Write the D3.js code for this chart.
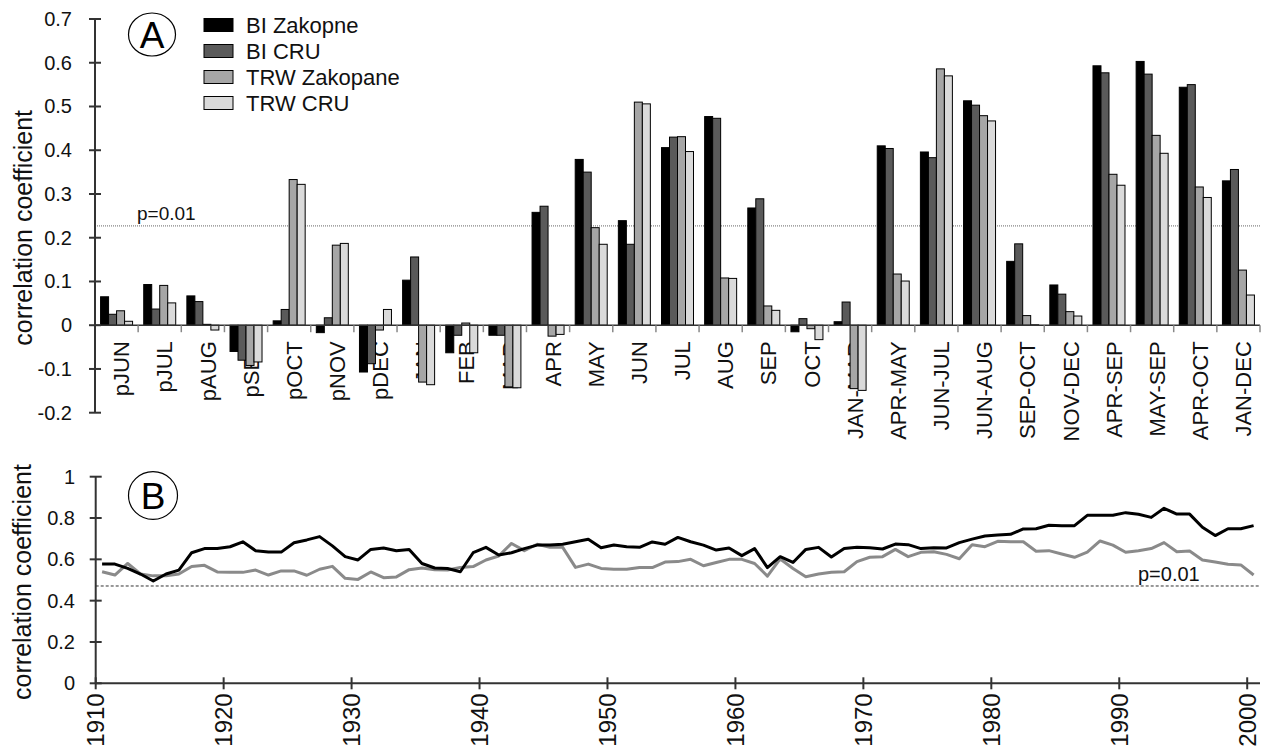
<!DOCTYPE html>
<html>
<head>
<meta charset="utf-8">
<script src="https://cdnjs.cloudflare.com/ajax/libs/d3/7.8.5/d3.min.js"></script>
<style>
  html, body { margin: 0; padding: 0; background: #fff; }
  svg { display: block; font-family: "Liberation Sans", Arial, sans-serif; }
</style>
</head>
<body>
<svg id="chart" width="1262" height="749"></svg>
<script>
// ---------- Panel A data ----------
const categories = ["pJUN","pJUL","pAUG","pSEP","pOCT","pNOV","pDEC","JAN","FEB","MAR","APR","MAY","JUN","JUL","AUG","SEP","OCT",
  "JAN-MAR","APR-MAY","JUN-JUL","JUN-AUG","SEP-OCT","NOV-DEC","APR-SEP","MAY-SEP","APR-OCT","JAN-DEC"];
const seriesNames = ["BI Zakopne","BI CRU","TRW Zakopane","TRW CRU"];
const biZakopane  = [0.065,0.093,0.067,-0.060,0.010,-0.017,-0.107,0.103,-0.063,-0.023,0.258,0.379,0.239,0.406,0.477,0.268,-0.015,
  0.008,0.410,0.396,0.513,0.146,0.092,0.593,0.603,0.544,0.330];
const biCRU       = [0.025,0.037,0.054,-0.080,0.036,0.017,-0.088,0.156,-0.023,-0.023,0.272,0.350,0.185,0.430,0.473,0.289,0.015,
  0.053,0.404,0.383,0.503,0.186,0.071,0.577,0.574,0.550,0.356];
const trwZakopane = [0.033,0.091,0.002,-0.092,0.333,0.183,-0.011,-0.130,0.005,-0.141,-0.025,0.223,0.510,0.431,0.108,0.044,-0.008,
  -0.145,0.117,0.586,0.479,0.022,0.031,0.345,0.434,0.316,0.126];
const trwCRU      = [0.009,0.051,-0.011,-0.084,0.322,0.187,0.036,-0.136,-0.063,-0.143,-0.021,0.185,0.506,0.397,0.107,0.034,-0.033,
  -0.149,0.101,0.570,0.467,0.001,0.021,0.320,0.393,0.292,0.069];
const yTicksA = [-0.2,-0.1,0,0.1,0.2,0.3,0.4,0.5,0.6,0.7];
const yTickLabelsA = ["-0.2","-0.1","0","0.1","0.2","0.3","0.4","0.5","0.6","0.7"];
const pLevelA = 0.227;

// ---------- Panel B data ----------
const years = d3.range(1910, 2001);
const biLine = [0.577,0.577,0.556,0.529,0.495,0.529,0.548,0.632,0.652,0.652,
  0.661,0.685,0.642,0.635,0.635,0.680,0.694,0.710,0.665,0.613,
  0.597,0.648,0.655,0.642,0.648,0.580,0.558,0.556,0.540,0.632,
  0.658,0.621,0.632,0.652,0.669,0.669,0.673,0.685,0.697,0.656,
  0.669,0.661,0.658,0.684,0.673,0.706,0.685,0.669,0.645,0.655,
  0.618,0.652,0.560,0.613,0.585,0.648,0.658,0.611,0.652,0.658,
  0.656,0.650,0.674,0.671,0.652,0.656,0.655,0.681,0.698,0.713,
  0.718,0.721,0.747,0.748,0.765,0.763,0.763,0.813,0.813,0.813,
  0.826,0.818,0.803,0.847,0.819,0.819,0.755,0.715,0.748,0.748,0.763];
const trwLine = [0.540,0.524,0.580,0.529,0.520,0.520,0.529,0.565,0.571,0.539,
  0.537,0.537,0.548,0.524,0.544,0.544,0.523,0.552,0.566,0.508,
  0.503,0.539,0.511,0.515,0.550,0.558,0.550,0.548,0.561,0.565,
  0.597,0.616,0.677,0.642,0.673,0.658,0.658,0.561,0.577,0.556,
  0.552,0.552,0.561,0.560,0.587,0.589,0.600,0.569,0.585,0.600,
  0.600,0.580,0.519,0.602,0.556,0.516,0.529,0.537,0.540,0.589,
  0.610,0.613,0.648,0.613,0.634,0.637,0.624,0.603,0.671,0.661,
  0.687,0.685,0.685,0.639,0.642,0.626,0.610,0.635,0.689,0.669,
  0.634,0.642,0.652,0.681,0.637,0.640,0.597,0.587,0.576,0.573,0.524];
const yTicksB = [0,0.2,0.4,0.6,0.8,1];
const yTickLabelsB = ["0","0.2","0.4","0.6","0.8","1"];
const xTicksB = [1910,1920,1930,1940,1950,1960,1970,1980,1990,2000];
const pLevelB = 0.471;

// ---------- drawing ----------
const svg = d3.select("#chart");
const fills = ["#000000","#5a5a5a","#a6a6a6","#dadada"];
const axisColor = "#333";

// vertical text reading bottom-to-top, its top end placed at (cx, topY)
function verticalLabel(sel, cx, topY, size) {
  sel.attr("font-size", size).attr("fill", "#111")
    .attr("text-anchor", "start").attr("dy", "0.35em");
  sel.each(function(d) {
    const t = d3.select(this);
    const len = this.getComputedTextLength();
    const x = cx(d), y = topY + len;
    t.attr("x", 0).attr("y", 0)
     .attr("transform", "translate(" + x + "," + y + ") rotate(-90)");
  });
}

// ===== Panel A =====
const xA = d3.scaleBand().domain(categories).range([95, 1260]).paddingInner(0).paddingOuter(0);
const yA = d3.scaleLinear().domain([-0.2, 0.7]).range([412.7, 19]);
const groupW = 32;
const xSub = d3.scaleBand().domain(seriesNames).range([0, groupW]).padding(0);
const seriesVals = [biZakopane, biCRU, trwZakopane, trwCRU];

const gA = svg.append("g");

// significance line A
gA.append("line")
  .attr("x1", xA.range()[0]).attr("x2", xA.range()[1])
  .attr("y1", yA(pLevelA)).attr("y2", yA(pLevelA))
  .attr("stroke", "#666").attr("stroke-width", 1).attr("stroke-dasharray", "1,1");
gA.append("text").attr("x", 137).attr("y", yA(pLevelA) - 6)
  .attr("font-size", 19).attr("fill", "#111").text("p=0.01");

// category labels (drawn under bars)
const catText = gA.selectAll("text.cat").data(categories).enter().append("text")
  .attr("class", "cat").text(d => d);
verticalLabel(catText, d => xA(d) + xA.bandwidth()/2 + 5, yA(0) + 16, 22);

// bars
seriesNames.forEach((s, si) => {
  gA.selectAll(null).data(categories).enter().append("rect")
    .attr("x", (d) => xA(d) + (xA.bandwidth() - groupW)/2 + xSub(s))
    .attr("width", xSub.bandwidth())
    .attr("y", (d, i) => yA(Math.max(0, seriesVals[si][i])))
    .attr("height", (d, i) => Math.abs(yA(seriesVals[si][i]) - yA(0)))
    .attr("fill", fills[si]).attr("stroke", "#000").attr("stroke-width", 1);
});

// x axis (zero line) with small ticks at band boundaries
gA.append("line").attr("x1", 95).attr("x2", 1260).attr("y1", yA(0)).attr("y2", yA(0))
  .attr("stroke", axisColor).attr("stroke-width", 1.5);
const boundaries = categories.map(c => xA(c)).concat([xA.range()[1]]).slice(1);
gA.selectAll(null).data(boundaries).enter().append("line")
  .attr("x1", d => d).attr("x2", d => d)
  .attr("y1", yA(0)).attr("y2", yA(0) + 7)
  .attr("stroke", "#888").attr("stroke-width", 1.5);

// y axis
gA.append("line").attr("x1", 95).attr("x2", 95).attr("y1", yA(0.7)).attr("y2", yA(-0.2))
  .attr("stroke", axisColor).attr("stroke-width", 2);
gA.selectAll(null).data(yTicksA).enter().append("line")
  .attr("x1", 89).attr("x2", 101).attr("y1", d => yA(d)).attr("y2", d => yA(d))
  .attr("stroke", axisColor).attr("stroke-width", 2);
gA.selectAll(null).data(yTicksA).enter().append("text")
  .attr("x", 72).attr("y", d => yA(d)).attr("text-anchor", "end")
  .attr("dy", "0.35em").attr("font-size", 20).attr("fill", "#111")
  .text((d, i) => yTickLabelsA[i]);
gA.append("text")
  .attr("transform", "translate(23," + ((yA(0.7) + yA(-0.2))/2 + 12) + ") rotate(-90)")
  .attr("text-anchor", "middle").attr("dy", "0.35em")
  .attr("font-size", 25).attr("fill", "#111").text("correlation coefficient");

// panel label A
gA.append("ellipse").attr("cx", 152).attr("cy", 34.5).attr("rx", 23.5).attr("ry", 21.5)
  .attr("fill", "none").attr("stroke", "#000").attr("stroke-width", 1.2);
gA.append("text").attr("x", 152).attr("y", 35).attr("text-anchor", "middle")
  .attr("dy", "0.35em").attr("font-size", 37).attr("fill", "#000").text("A");

// legend
const legend = gA.append("g");
seriesNames.forEach((s, i) => {
  const ly = 25 + i * 26;
  legend.append("rect").attr("x", 204).attr("y", ly - 6.5).attr("width", 29).attr("height", 13)
    .attr("fill", fills[i]).attr("stroke", "#000").attr("stroke-width", 1);
  legend.append("text").attr("x", 246).attr("y", ly).attr("dy", "0.35em")
    .attr("font-size", 22).attr("fill", "#111").text(s);
});

// ===== Panel B =====
const xB = d3.scaleLinear().domain([1910, 2001]).range([95.7, 1260]);
const yB = d3.scaleLinear().domain([0, 1]).range([683.3, 476.7]);
const gB = svg.append("g");

gB.append("line").attr("x1", xB(1910)).attr("x2", xB(2001))
  .attr("y1", yB(pLevelB)).attr("y2", yB(pLevelB))
  .attr("stroke", "#333").attr("stroke-width", 1).attr("stroke-dasharray", "3,2");
gB.append("text").attr("x", 1138).attr("y", yB(pLevelB) - 5)
  .attr("font-size", 20).attr("fill", "#111").text("p=0.01");

const lineGen = vals => d3.line().x((d, i) => xB(years[i] + 0.5)).y(d => yB(d))(vals);
gB.append("path").attr("d", lineGen(trwLine)).attr("fill", "none")
  .attr("stroke", "#8a8a8a").attr("stroke-width", 3).attr("stroke-linejoin", "round");
gB.append("path").attr("d", lineGen(biLine)).attr("fill", "none")
  .attr("stroke", "#000").attr("stroke-width", 3).attr("stroke-linejoin", "round");

// axes B
gB.append("line").attr("x1", xB(1910)).attr("x2", xB(2001)).attr("y1", yB(0)).attr("y2", yB(0))
  .attr("stroke", axisColor).attr("stroke-width", 2);
gB.selectAll(null).data(xTicksB).enter().append("line")
  .attr("x1", d => xB(d)).attr("x2", d => xB(d)).attr("y1", yB(0) - 6).attr("y2", yB(0) + 6)
  .attr("stroke", axisColor).attr("stroke-width", 2);
const yrText = gB.selectAll("text.yr").data(xTicksB).enter().append("text")
  .attr("class", "yr").text(d => d);
verticalLabel(yrText, d => xB(d), yB(0) + 10, 24);

gB.append("line").attr("x1", xB(1910)).attr("x2", xB(1910)).attr("y1", yB(1)).attr("y2", yB(0))
  .attr("stroke", axisColor).attr("stroke-width", 2);
gB.selectAll(null).data(yTicksB).enter().append("line")
  .attr("x1", xB(1910) - 6).attr("x2", xB(1910) + 6).attr("y1", d => yB(d)).attr("y2", d => yB(d))
  .attr("stroke", axisColor).attr("stroke-width", 2);
gB.selectAll(null).data(yTicksB).enter().append("text")
  .attr("x", 75).attr("y", d => yB(d)).attr("text-anchor", "end")
  .attr("dy", "0.35em").attr("font-size", 20).attr("fill", "#111")
  .text((d, i) => yTickLabelsB[i]);
gB.append("text")
  .attr("transform", "translate(22,582) rotate(-90)")
  .attr("text-anchor", "middle").attr("dy", "0.35em")
  .attr("font-size", 25).attr("fill", "#111").text("correlation coefficient");

gB.append("ellipse").attr("cx", 153).attr("cy", 495.5).attr("rx", 24.5).attr("ry", 23.8)
  .attr("fill", "none").attr("stroke", "#000").attr("stroke-width", 1.2);
gB.append("text").attr("x", 153).attr("y", 496.5).attr("text-anchor", "middle")
  .attr("dy", "0.35em").attr("font-size", 37).attr("fill", "#000").text("B");
</script>
</body>
</html>
